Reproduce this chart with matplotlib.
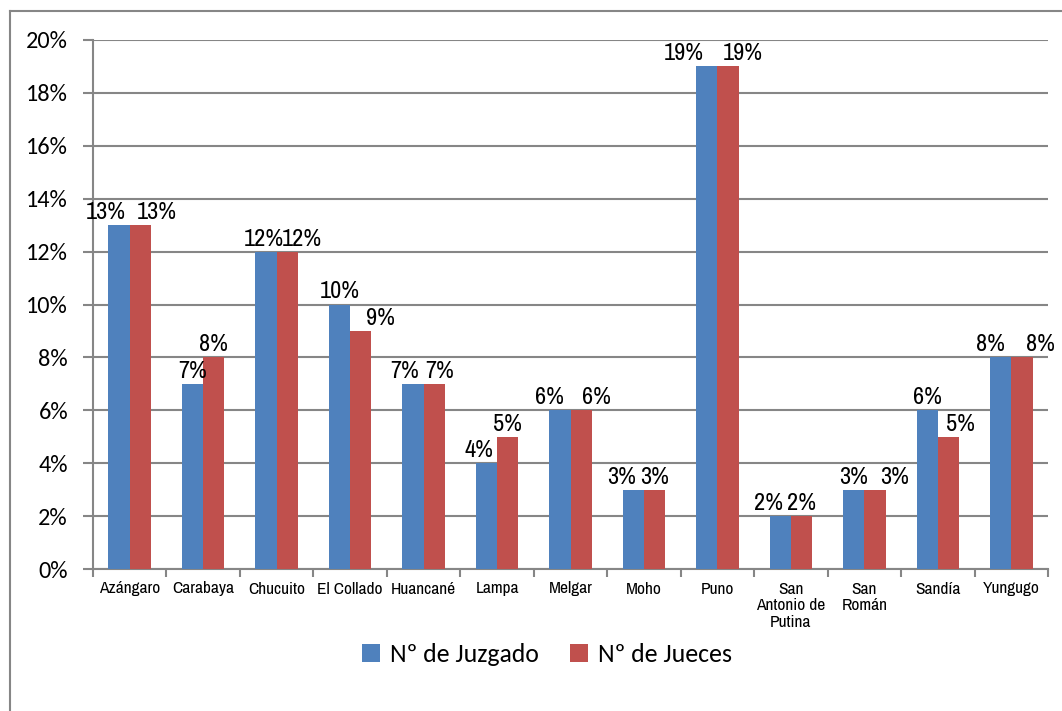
import matplotlib.pyplot as plt
import numpy as np
from matplotlib.lines import Line2D
from matplotlib.ticker import FuncFormatter

provincias = ["Azángaro", "Carabaya", "Chucuito", "El Collado", "Huancané", "Lampa",
              "Melgar", "Moho", "Puno", "San\nAntonio de\nPutina", "San\nRomán",
              "Sandía", "Yungugo"]
juzgados = [13, 7, 12, 10, 7, 4, 6, 3, 19, 2, 3, 6, 8]
jueces = [13, 8, 12, 9, 7, 5, 6, 3, 19, 2, 3, 5, 8]

# label nudges (pixels), like excel pushed them apart
dx_azul = [-13, 0, -2, 0, -8, -7, -10, -12, -23, -12, 0, 0, -10]
dx_rojo = [16, 0, 15, 20, 5, 0, 15, 0, 15, 0, 20, 12, 19]

azul = "#4F81BD"
rojo = "#C0504D"
gris = "#868686"
narrow = ["Archivo Narrow", "DejaVu Sans"]
calibri = ["Carlito", "DejaVu Sans"]

fig = plt.figure(figsize=(10.62, 7.11), dpi=100)
ax = fig.add_axes([93/1062, 1 - 569/711, 955/1062, 529/711])

x = np.arange(len(provincias))
w = 0.29
b1 = ax.bar(x - w/2, juzgados, w, color=azul, label="Nº de Juzgado", zorder=3)
b2 = ax.bar(x + w/2, jueces, w, color=rojo, label="Nº de Jueces", zorder=3)

for bars, dxs in [(b1, dx_azul), (b2, dx_rojo)]:
    for r, d in zip(bars, dxs):
        ax.annotate("%d%%" % r.get_height(),
                    (r.get_x() + r.get_width()/2, r.get_height()),
                    xytext=(d, 2), textcoords="offset pixels",
                    ha="center", va="bottom", fontsize=17.5, family=narrow)

ax.set_xlim(-0.5, len(provincias) - 0.5)
ax.set_ylim(0, 20)
ax.set_yticks(np.arange(0, 21, 2))
ax.yaxis.set_major_formatter(FuncFormatter(lambda v, p: "%d%%" % v))
ax.grid(axis="y", color=gris, lw=1.5, zorder=0)
ax.set_xticks(x)
ax.set_xticklabels(provincias, family=narrow, fontsize=12.5, linespacing=1.15, va="top")
ax.set_xticks(np.arange(-0.5, len(provincias)), minor=True)
ax.tick_params(axis="x", which="major", length=0, pad=9)
ax.tick_params(axis="x", which="minor", length=6, width=1.5, color=gris)
ax.tick_params(axis="y", length=7, width=1.5, color=gris, labelsize=17.5, pad=11)
for t in ax.get_yticklabels():
    t.set_family(calibri)

for s in ["top", "right"]:
    ax.spines[s].set_visible(False)
for s in ["left", "bottom"]:
    ax.spines[s].set_color(gris)
    ax.spines[s].set_linewidth(1.5)

fig.legend(handles=[b1, b2], loc="center", bbox_to_anchor=(0.515, 0.079), ncol=2,
           frameon=False, prop={"family": calibri, "size": 18.5},
           handlelength=0.7, handleheight=0.7, handletextpad=0.4, columnspacing=1.2)

# outer chart border (only top and left visible in the crop)
fig.add_artist(Line2D([10/1062, 1], [1 - 11/711, 1 - 11/711], color=gris, lw=1.5,
                      transform=fig.transFigure))
fig.add_artist(Line2D([10/1062, 10/1062], [0, 1 - 11/711], color=gris, lw=1.5,
                      transform=fig.transFigure))

fig.savefig("out.png", dpi=100)
